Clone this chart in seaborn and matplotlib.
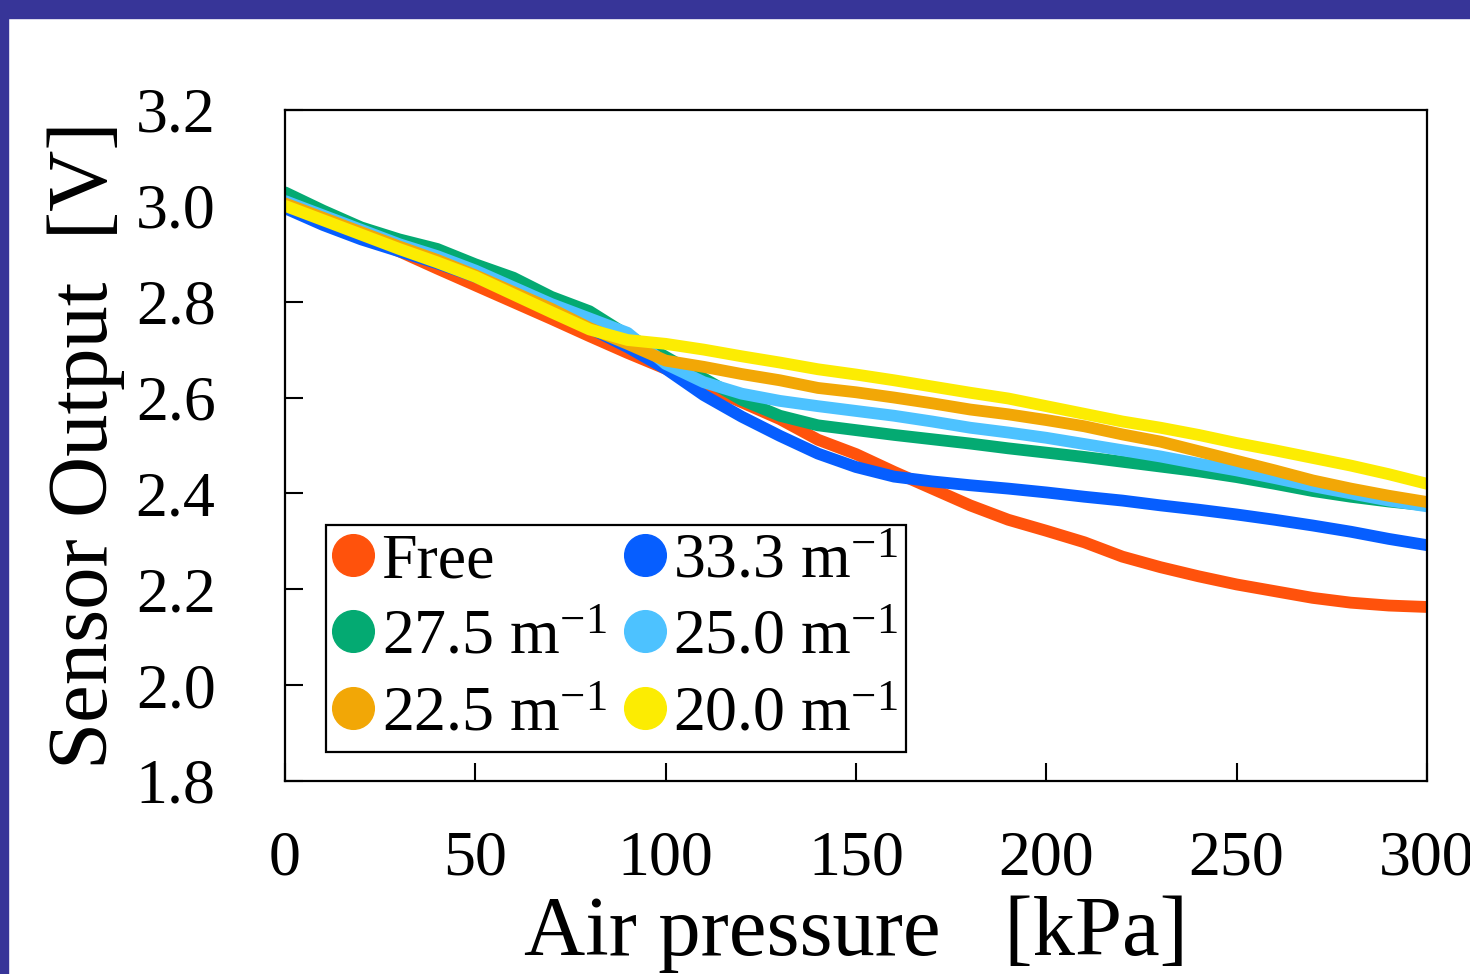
import pandas as pd
import numpy as np
import matplotlib
matplotlib.use('Agg')
import matplotlib.pyplot as plt
from matplotlib.lines import Line2D
from matplotlib.patches import Rectangle
import seaborn as sns

# Veriler
pressure = [0, 10, 20, 30, 40, 50, 60, 70, 80, 90, 100, 110, 120, 130, 140, 150,
            160, 170, 180, 190, 200, 210, 220, 230, 240, 250, 260, 270, 280, 290, 300]

free = [3.010, 2.975, 2.940, 2.905, 2.869, 2.834, 2.799, 2.764, 2.728, 2.693, 2.660,
        2.625, 2.590, 2.555, 2.512, 2.482, 2.445, 2.410, 2.375, 2.345, 2.322, 2.298,
        2.268, 2.246, 2.227, 2.210, 2.196, 2.182, 2.172, 2.166, 2.163]
m333 = [2.995, 2.960, 2.930, 2.905, 2.880, 2.852, 2.820, 2.782, 2.745, 2.705, 2.660,
        2.605, 2.560, 2.520, 2.483, 2.455, 2.435, 2.425, 2.417, 2.410, 2.402, 2.393,
        2.385, 2.375, 2.366, 2.356, 2.345, 2.333, 2.320, 2.305, 2.292]
m275 = [3.028, 2.990, 2.955, 2.930, 2.910, 2.878, 2.850, 2.810, 2.780, 2.730, 2.685,
        2.640, 2.595, 2.562, 2.542, 2.532, 2.522, 2.513, 2.504, 2.494, 2.485, 2.476,
        2.466, 2.456, 2.446, 2.434, 2.420, 2.405, 2.393, 2.383, 2.375]
m250 = [3.010, 2.980, 2.950, 2.920, 2.895, 2.865, 2.830, 2.795, 2.765, 2.735, 2.670,
        2.632, 2.608, 2.593, 2.582, 2.572, 2.562, 2.550, 2.537, 2.527, 2.516, 2.503,
        2.490, 2.477, 2.462, 2.448, 2.432, 2.415, 2.400, 2.385, 2.373]
m225 = [3.005, 2.975, 2.945, 2.915, 2.887, 2.855, 2.820, 2.785, 2.745, 2.712, 2.677,
        2.664, 2.649, 2.636, 2.620, 2.611, 2.600, 2.588, 2.575, 2.565, 2.553, 2.540,
        2.523, 2.508, 2.488, 2.468, 2.448, 2.427, 2.410, 2.395, 2.382]
m200 = [3.000, 2.970, 2.940, 2.910, 2.882, 2.852, 2.815, 2.778, 2.742, 2.720, 2.712,
        2.700, 2.686, 2.673, 2.659, 2.648, 2.636, 2.623, 2.610, 2.598, 2.582, 2.566,
        2.550, 2.537, 2.522, 2.505, 2.490, 2.474, 2.458, 2.440, 2.420]

labels = ['Free', r'33.3 m$^{-1}$', r'27.5 m$^{-1}$', r'25.0 m$^{-1}$',
          r'22.5 m$^{-1}$', r'20.0 m$^{-1}$']
colors = ['#FF520C', '#065EFF', '#04AA72', '#4DC2FF', '#F2A706', '#FCEC02']
series = [free, m333, m275, m250, m225, m200]

x_ticks = [0, 50, 100, 150, 200, 250, 300]
y_ticks = [1.8, 2.0, 2.2, 2.4, 2.6, 2.8, 3.0, 3.2]

# Uzun formatta tablo
df = pd.concat([pd.DataFrame({'kPa': pressure, 'V': s, 'seri': lab})
                for s, lab in zip(series, labels)], ignore_index=True)

sns.set_style('ticks')
plt.rcParams['font.family'] = ['Liberation Serif', 'DejaVu Serif']
plt.rcParams['mathtext.fontset'] = 'custom'
plt.rcParams['mathtext.rm'] = 'Liberation Serif'
plt.rcParams['mathtext.it'] = 'Liberation Serif:italic'
plt.rcParams['text.color'] = 'black'
plt.rcParams['axes.labelcolor'] = 'black'

fig = plt.figure(figsize=(14.7, 9.74), dpi=100)
ax = fig.add_axes([0.1939, 0.1982, 0.9707 - 0.1939, 0.8871 - 0.1982])

sns.lineplot(data=df, x='kPa', y='V', hue='seri', palette=dict(zip(labels, colors)),
             hue_order=labels, linewidth=8.5, sort=False, legend=False, ax=ax,
             solid_capstyle='round', solid_joinstyle='round')

ax.set_xlim(0, 300)
ax.set_ylim(1.8, 3.2)
ax.set_xticks(x_ticks)
ax.set_yticks(y_ticks)
ax.set_yticklabels([f'{v:.1f}' for v in y_ticks])
ax.tick_params(axis='both', direction='in', length=13, width=1.5, labelsize=46,
               colors='black')
ax.tick_params(axis='y', pad=50)
ax.tick_params(axis='x', pad=36)
for sp in ax.spines.values():
    sp.set_linewidth(1.6)
    sp.set_color('black')

ax.set_xlabel('Air pressure   [kPa]', fontsize=61, labelpad=5, color='black')
ax.set_ylabel('Sensor Output  [V]', fontsize=61, labelpad=8, color='black')

# Lejant (daire işaretli)
order = [0, 2, 4, 1, 3, 5]
handles = [Line2D([], [], marker='o', linestyle='', markersize=30,
                  markerfacecolor=colors[i], markeredgecolor=colors[i]) for i in order]
leg = ax.legend(handles, [labels[i] for i in order], ncol=2, loc='lower left',
                bbox_to_anchor=(326 / 1470, 1 - 752 / 974), bbox_transform=fig.transFigure,
                fontsize=46, frameon=True, fancybox=False, edgecolor='black',
                handlelength=0.6, handletextpad=0.15, columnspacing=0.3,
                labelspacing=0.28, borderpad=0.12, borderaxespad=0)
leg.get_frame().set_linewidth(1.6)
leg.get_frame().set_alpha(1)

# Mor çerçeve (üst ve sol)
fig.patches.append(Rectangle((0, 1 - 18 / 974), 1, 18 / 974, transform=fig.transFigure,
                             color='#373598', zorder=10))
fig.patches.append(Rectangle((0, 0), 8 / 1470, 1, transform=fig.transFigure,
                             color='#373598', zorder=10))

fig.savefig('out.png', dpi=100)
